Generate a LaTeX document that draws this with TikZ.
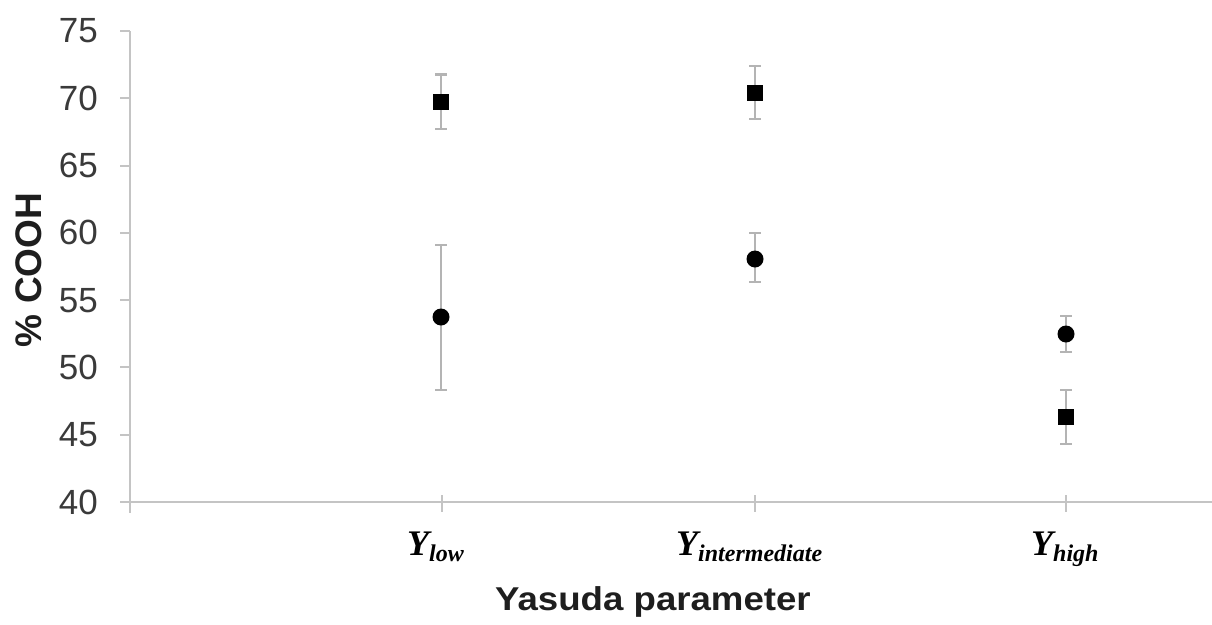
\documentclass[tikz,border=0pt]{standalone}
\usepackage{fontspec}
\setmainfont{Liberation Serif}
\setsansfont{Liberation Sans}
\definecolor{axisgray}{HTML}{C4C4C4}
\definecolor{bargray}{HTML}{B4B4B4}
\definecolor{tickgray}{HTML}{3A3A3A}
\definecolor{titlegray}{HTML}{1E1E1E}
\tikzset{
  axisline/.style={draw=axisgray, line width=2pt},
  errbar/.style={draw=bargray, line width=2.6pt},
  errcap/.style={draw=bargray, line width=2.6pt},
  sqmark/.style={rectangle, fill=black, minimum size=16pt, inner sep=0pt},
  circmark/.style={circle, fill=black, minimum size=17pt, inner sep=0pt},
  ticklab/.style={anchor=east, inner sep=0pt, text=tickgray, font=\sffamily\fontsize{35}{35}\selectfont},
  catlab/.style={anchor=base west, inner sep=0pt, text=black, font=\rmfamily\bfseries\itshape\fontsize{36}{36}\selectfont},
  ytitlestyle/.style={inner sep=0pt, text=titlegray, font=\sffamily\bfseries\fontsize{37}{37}\selectfont},
  xtitlestyle/.style={inner sep=0pt, text=titlegray, font=\sffamily\bfseries\fontsize{33}{33}\selectfont}
}
\newcommand\subtx[1]{\raisebox{-6pt}{\fontsize{24}{24}\selectfont #1}}
% errorpoint: name, x, y, top, bottom, style
\newcommand\errpoint[6]{%
  \coordinate (#1t) at (#2,#4);
  \coordinate (#1b) at (#2,#5);
  \draw[errbar] (#1t) -- (#1b);
  \draw[errcap] ([xshift=-6pt]#1t) -- ([xshift=6pt]#1t);
  \draw[errcap] ([xshift=-6pt]#1b) -- ([xshift=6pt]#1b);
  \node[#6] (#1) at (#2,#3) {};
}
\begin{document}
\begin{tikzpicture}[x=1pt,y=-1pt]
\useasboundingbox (0,0) rectangle (1212,624);
% axes
\coordinate (ytop) at (130,31);
\coordinate (ybot) at (130,513);
\coordinate (xleft) at (120,502);
\coordinate (xright) at (1216,502);
\draw[axisline] (ytop) -- (ybot);
\draw[axisline] (xleft) -- (xright);
% y ticks and labels
\foreach \v [count=\i from 0] in {40,45,50,55,60,65,70,75}{
  \pgfmathsetmacro\py{502-\i*67.29}
  \coordinate (yt\v) at (120,\py);
  \draw[axisline] (yt\v) -- ++(10,0);
  \node[ticklab] (yl\v) at (98,\py) {\v};
}
% x ticks
\foreach \xx/\nm in {442/a,755/b,1066/c}{
  \coordinate (xt\nm) at (\xx,495);
  \draw[draw=axisgray, line width=1.6pt] (xt\nm) -- ++(0,17);
}
% data: Y_low
\errpoint{lowsq}{441}{101.5}{74.5}{129}{sqmark}
\errpoint{lowci}{441}{317}{245}{390}{circmark}
% Y_intermediate
\errpoint{intsq}{755}{92.5}{66}{119}{sqmark}
\errpoint{intci}{755}{259}{233}{282}{circmark}
% Y_high
\errpoint{highci}{1066}{334}{316}{352}{circmark}
\errpoint{highsq}{1066}{417}{390}{444}{sqmark}
% category labels
\node[catlab] (clow) at (407,555) {Y\subtx{low}};
\node[catlab] (cint) at (676,555) {Y\subtx{intermediate}};
\node[catlab] (chigh) at (1031,555) {Y\subtx{high}};
% axis titles
\node[xtitlestyle, anchor=base, xscale=1.11, transform shape] (xtitle) at (653,610) {Yasuda parameter};
\node[ytitlestyle, rotate=90] (ytitle) at (29,270) {\% COOH};
\end{tikzpicture}
\end{document}
